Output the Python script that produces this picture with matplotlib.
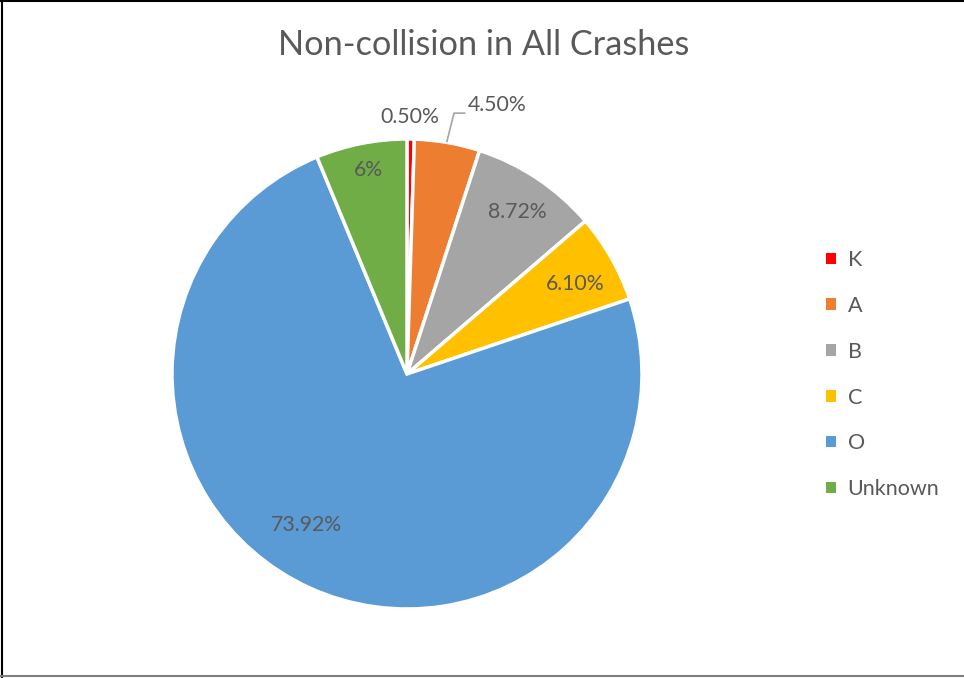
import matplotlib.pyplot as plt
from matplotlib.lines import Line2D

categories = ["K", "A", "B", "C", "O", "Unknown"]
values = [0.50, 4.50, 8.72, 6.10, 73.92, 6.26]
value_labels = ["0.50%", "4.50%", "8.72%", "6.10%", "73.92%", "6%"]
colors = ["#FF0000", "#ED7D31", "#A5A5A5", "#FFC000", "#5B9BD5", "#70AD47"]

# label spots in pie units (radius = 1)
label_xy = [(0.01, 1.094), (0.385, 1.145), (0.468, 0.689),
            (0.715, 0.383), (-0.426, -0.643), (-0.166, 0.868)]

plt.rcParams['font.family'] = ['Lato', 'DejaVu Sans']
txt = "#595959"

fig = plt.figure(figsize=(9.64, 6.78), dpi=100)
cx, cy, r = 407, 374, 235
ax = fig.add_axes([(cx - r) / 964, (678 - cy - r) / 678, 2 * r / 964, 2 * r / 678])

wedges, _ = ax.pie(values, colors=colors, startangle=90, counterclock=False,
                   wedgeprops=dict(edgecolor="white", linewidth=2.5))
ax.set_xlim(-1, 1)
ax.set_ylim(-1, 1)

for i, (x, y) in enumerate(label_xy):
    ax.text(x, y, value_labels[i], ha="center", va="center", fontsize=15.3,
            color=txt, clip_on=False)

# leader line for the A label
ax.plot([0.17, 0.2, 0.245], [0.99, 1.11, 1.11], color="#A5A5A5", lw=1.2,
        clip_on=False)

fig.text(484 / 964, 1 - 45 / 678, "Non-collision in All Crashes", ha="center",
         va="center", fontsize=24.7, color=txt)

leg = fig.legend(wedges, categories, loc="upper left",
                 bbox_to_anchor=(826 / 964, 1 - 250 / 678), frameon=False,
                 borderpad=0, borderaxespad=0,
                 handlelength=0.45, handleheight=0.45, handletextpad=0.55,
                 labelspacing=1.2, fontsize=15.5, labelcolor=txt)
for h in leg.legend_handles:
    h.set_edgecolor("none")

# chart border
fig.add_artist(Line2D([0, 1], [0.999, 0.999], color="black", lw=1.5))
fig.add_artist(Line2D([0.002, 0.002], [0, 1], color="black", lw=1.5))
fig.add_artist(Line2D([0, 1], [0.003, 0.003], color="#7F7F7F", lw=1.5))

fig.savefig("out.png", dpi=100)
